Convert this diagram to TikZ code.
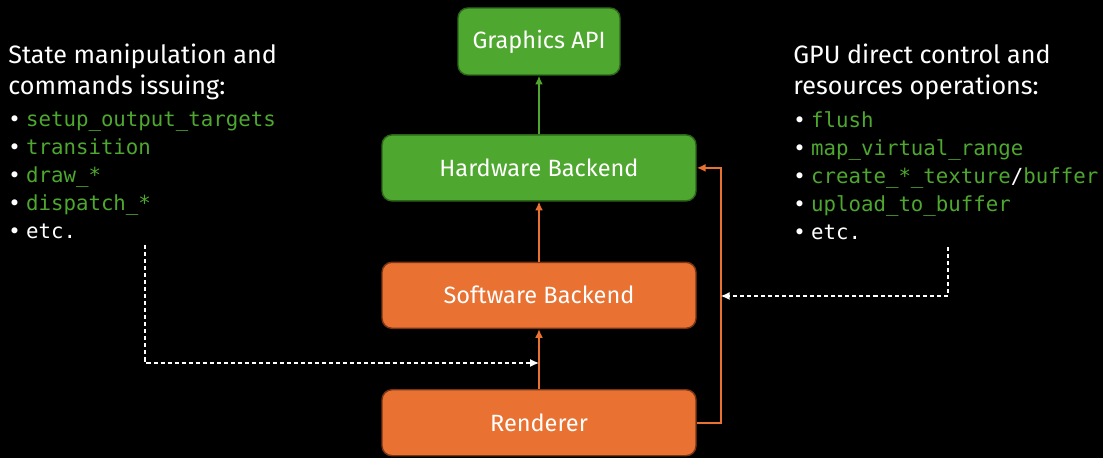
\documentclass[tikz,border=0pt]{standalone}
\usepackage{fontspec}
\setmainfont{Fira Sans}
\setmonofont{DejaVu Sans Mono}
\usepackage{xcolor}
\usetikzlibrary{positioning, arrows.meta}
\definecolor{boxgreen}{HTML}{4EA72E}
\definecolor{edgegreen}{HTML}{2C6619}
\definecolor{boxorange}{HTML}{E97132}
\definecolor{edgeorange}{HTML}{7A3514}
\definecolor{codegreen}{HTML}{4EA72E}
\newcommand{\bul}{\textcolor{white}{•}\hspace{3pt}}
\newcommand{\cmd}[1]{\textcolor{codegreen}{#1}}
\tikzstyle{greenbox} = [rectangle, rounded corners=0.2cm, draw=edgegreen, fill=boxgreen, line width=0.8pt, minimum height=1.32cm, minimum width=6.28cm, text=white, font=\fontsize{13.4}{16}\selectfont]
\tikzstyle{orangebox} = [greenbox, draw=edgeorange, fill=boxorange]
\tikzstyle{heading} = [anchor=north west, inner sep=0pt, align=left, text=white, font=\fontsize{14.3}{17.6}\selectfont]
\tikzstyle{codelist} = [anchor=north west, inner sep=0pt, align=left, text=white, font=\ttfamily\fontsize{11.8}{15.9}\selectfont]
\tikzstyle{flow} = [-{Latex[length=5pt,width=4.5pt]}, line width=1.1pt]
\tikzstyle{hint} = [-{Latex[length=5pt,width=4.5pt]}, white, line width=0.8pt, dash pattern=on 2.3pt off 1.7pt]

\begin{document}
\begin{tikzpicture}
    \fill[black] (0,0) rectangle (22.06,9.16);
    \useasboundingbox (0,0) rectangle (22.06,9.16);

    %% pile des couches
    \node (api) [greenbox, minimum width=3.24cm, minimum height=1.34cm] at (10.78,8.33) {Graphics API};
    \node (hw) [greenbox, below=1.17cm of api] {Hardware Backend};
    \node (sw) [orangebox, below=1.2cm of hw] {Software Backend};
    \node (ren) [orangebox, below=1.2cm of sw] {Renderer};

    \draw[flow, boxgreen] (hw) -- (api);
    \draw[flow, boxorange] (sw) -- (hw);
    \draw[flow, boxorange] (ren) -- (sw);
    \draw[flow, boxorange] (ren.east) -- ++(0.48,0) coordinate (loop) |- (hw.east);

    %% commandes
    \node (headL) [heading] at (0.16,8.28) {State manipulation and\\commands issuing:};
    \node (listL) [codelist, below=0.22cm of headL.south west, anchor=north west] {\bul\cmd{setup\_output\_targets}\\
        \bul\cmd{transition}\\
        \bul\cmd{draw\_*}\\
        \bul\cmd{dispatch\_*}\\
        \bul etc.};
    \coordinate (cmdsrc) at (2.9,4.26);
    \draw[hint] (cmdsrc) |- (sw.south |- 0,1.9);

    %% ressources
    \node (headR) [heading] at (15.86,8.28) {GPU direct control and\\resources operations:};
    \node (listR) [codelist, below=0.22cm of headR.south west, anchor=north west] {\bul\cmd{flush}\\
        \bul\cmd{map\_virtual\_range}\\
        \bul\cmd{create\_*\_texture}/\cmd{buffer}\\
        \bul\cmd{upload\_to\_buffer}\\
        \bul etc.};
    \coordinate (ressrc) at (18.96,4.22);
    \draw[hint] (ressrc) |- (loop |- 0,3.24);
\end{tikzpicture}
\end{document}
